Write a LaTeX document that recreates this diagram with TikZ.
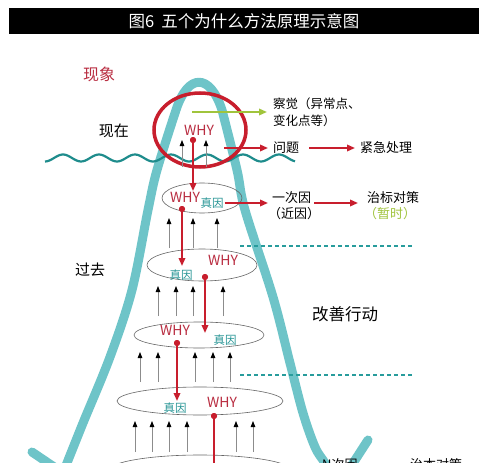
\documentclass[tikz,border=0pt]{standalone}
\usepackage{fontspec}
\setmainfont{Noto Sans CJK SC}
\usetikzlibrary{arrows.meta}
\definecolor{bellc}{RGB}{110,196,200}
\definecolor{wavec}{RGB}{30,140,140}
\definecolor{redc}{RGB}{200,30,45}
\definecolor{whyc}{RGB}{185,45,65}
\definecolor{zyc}{RGB}{40,150,150}
\definecolor{grnc}{RGB}{160,196,60}
\definecolor{dashc}{RGB}{40,156,156}
\begin{document}
\begin{tikzpicture}[x=1pt,y=-1pt,
  bell/.style={draw=bellc,line width=9pt,line cap=round,line join=round},
  thinell/.style={draw=black!60,line width=0.6pt},
  uparrow/.style={draw=black!45,line width=0.8pt,-{Triangle[length=6pt,width=4.5pt,color=black]}},
  redarrow/.style={draw=redc,line width=1.8pt,-{Triangle[length=8pt,width=6.5pt]}},
  grnarrow/.style={draw=grnc,line width=1.8pt,-{Triangle[length=8pt,width=6.5pt]}},
  lbl/.style={font=\fontsize{13}{15}\selectfont,anchor=west,inner sep=0pt},
  why/.style={font=\fontsize{14}{14}\selectfont,text=whyc,inner sep=0pt},
  zy/.style={font=\fontsize{11.5}{12}\selectfont,text=zyc,inner sep=0pt},
  side/.style={font=\fontsize{15}{15}\selectfont,inner sep=0pt},
  dot/.style={circle,fill=redc,inner sep=0pt,minimum size=6pt},
  dashl/.style={draw=dashc,line width=1.2pt,dash pattern=on 4pt off 3pt}]
\useasboundingbox (0,0) rectangle (483,463);
\clip (0,0) rectangle (483,463);
\fill[white] (0,0) rectangle (483,463);
% title bar
\fill[black] (9,8) rectangle (479,34);
\node[text=white,font=\fontsize{16.5}{17}\selectfont,inner sep=0pt] (title) at (244,21.5) {图6\hspace{7pt}五个为什么方法原理示意图};
% bell curve
\draw[bell] plot[smooth,tension=0.55] coordinates {(63,473) (67,463) (83,423) (110,357) (132,290) (148,210) (157,170) (176,110)}
  .. controls (188,73) and (210,73) .. (222,110)
  -- plot[smooth,tension=0.55] coordinates {(222,110) (237,170) (245,210) (273,297) (290,363) (303,413) (315,447) (325,463) (339,485)};
\draw[bell] (32,452) -- (63,473);
\draw[bell] (368,440) -- (339,485);
% thin ellipses
\draw[thinell] (202,198) ellipse [x radius=40,y radius=15];
\draw[thinell] (202,265) ellipse [x radius=55,y radius=16];
\draw[thinell] (199,335) ellipse [x radius=65,y radius=13];
\draw[thinell] (200,401) ellipse [x radius=83,y radius=14];
\draw[thinell] (200,471) ellipse [x radius=92,y radius=16];
% dashed lines
\coordinate (d1a) at (240,246); \coordinate (d1b) at (412,246);
\coordinate (d2a) at (240,375); \coordinate (d2b) at (412,375);
\draw[dashl] (d1a) -- (d1b);
\draw[dashl] (d2a) -- (d2b);
% wave
\draw[wavec,line width=2.2pt] plot[domain=45:295,samples=120,smooth] (\x,{158+3.5*sin(\x*10)});
% big red ellipse
\draw[redc,line width=3.5pt] (200,130) ellipse [x radius=46,y radius=37];
% black up arrows
\foreach \x in {182,206} \draw[uparrow] (\x,167) -- (\x,140);
\foreach \x in {169,193,217} \draw[uparrow] (\x,248) -- (\x,218);
\foreach \x in {158,176,193,223} \draw[uparrow] (\x,316) -- (\x,286);
\foreach \x in {140,158,195,213,230} \draw[uparrow] (\x,382) -- (\x,352);
\foreach \x in {135,152,169,187,236,253} \draw[uparrow] (\x,452) -- (\x,421);
% texts
\node[side,text=whyc,font=\fontsize{16}{16}\selectfont] (xx) at (99,74) {现象};
\node[side] (xz) at (114,131) {现在};
\node[side] (gq) at (90,270) {过去};
\node[side,font=\fontsize{16.5}{17}\selectfont] (gs) at (345,314) {改善行动};
\node[why] (w1) at (199,130) {WHY};
\node[why] (w2) at (185,197) {WHY};
\node[why] (w3) at (223,260) {WHY};
\node[why] (w4) at (175,330) {WHY};
\node[why] (w5) at (222,402) {WHY};
\node[zy] (z2) at (212,203) {真因};
\node[zy] (z3) at (181,275) {真因};
\node[zy] (z4) at (225,340) {真因};
\node[zy] (z5) at (175,408) {真因};
\node[lbl,font=\fontsize{12.5}{14}\selectfont] (cj1) at (273,104) {察觉（异常点、};
\node[lbl,font=\fontsize{12.5}{14}\selectfont] (cj2) at (273,121) {变化点等）};
\node[lbl] (wt) at (273,148) {问题};
\node[lbl] (jj) at (360,148) {紧急处理};
\node[lbl] (yc1) at (272,197.5) {一次因};
\node[lbl] (yc2) at (268,214) {（近因）};
\node[lbl] (zb1) at (367,197.5) {治标对策};
\node[lbl,text=grnc] (zb2) at (364,214) {（暂时）};
\node[lbl] (nc) at (322,465) {N次因};
\node[lbl] (zbd) at (410,465) {治本对策};
% dots
\node[dot] (p1) at (193,140) {};
\node[dot] (p2) at (182,209) {};
\node[dot] (p3) at (205,277) {};
\node[dot] (p4) at (177,343) {};
\node[dot] (p5) at (214,416) {};
\coordinate (t1) at (193,191);
\coordinate (t2) at (182,266);
\coordinate (t3) at (205,333);
\coordinate (t4) at (177,401);
\coordinate (t5) at (214,470);
\draw[redarrow] (p1.center) -- (t1);
\draw[redarrow] (p2.center) -- (t2);
\draw[redarrow] (p3.center) -- (t3);
\draw[redarrow] (p4.center) -- (t4);
\draw[draw=redc,line width=1.8pt] (p5.center) -- (t5);
\node[dot] at (p1) {};
\node[dot] at (p2) {};
\node[dot] at (p3) {};
\node[dot] at (p4) {};
\node[dot] at (p5) {};
% horizontal arrows
\coordinate (g0) at (192,112);
\draw[grnarrow] (g0) -- ([xshift=-6pt]cj1.west |- g0);
\coordinate (r0) at (224,148);
\draw[redarrow] (r0) -- ([xshift=-5pt]wt.west);
\draw[redarrow] ([xshift=10pt]wt.east) -- ([xshift=-5pt]jj.west);
\draw[redarrow] ([xshift=1pt]z2.east) -- (268,203);
\draw[redarrow] ([xshift=3pt]yc1.east |- 0,203) -- (358,203);
\end{tikzpicture}
\end{document}
